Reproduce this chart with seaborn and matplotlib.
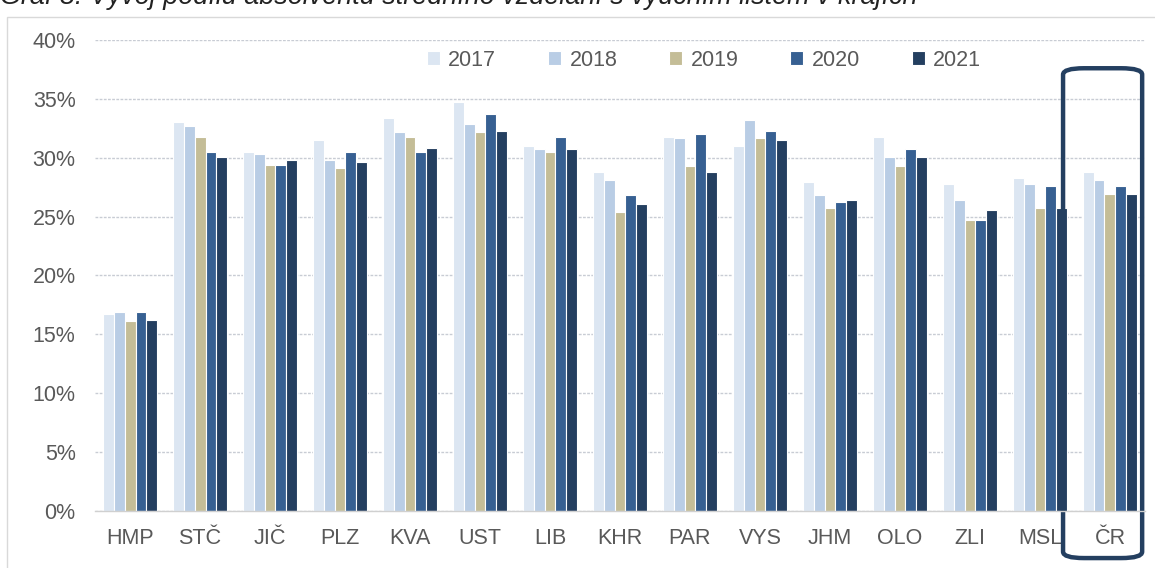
import pandas as pd
import seaborn as sns
import matplotlib.pyplot as plt
from matplotlib.patches import FancyBboxPatch, Rectangle
from matplotlib.ticker import PercentFormatter
import matplotlib.transforms as mtransforms

# ==========================================
# DATA (in %)
# ==========================================
REGIONS = ["HMP", "STČ", "JIČ", "PLZ", "KVA", "UST", "LIB", "KHR",
           "PAR", "VYS", "JHM", "OLO", "ZLI", "MSL", "ČR"]
YEARS = ["2017", "2018", "2019", "2020", "2021"]

Y2017 = [16.7, 33.0, 30.5, 31.5, 33.4, 34.7, 31.0, 28.8, 31.8, 31.0, 27.9, 31.8, 27.8, 28.3, 28.8]
Y2018 = [16.9, 32.7, 30.3, 29.8, 32.2, 32.9, 30.7, 28.1, 31.7, 33.2, 26.8, 30.1, 26.4, 27.8, 28.1]
Y2019 = [16.1, 31.8, 29.4, 29.1, 31.8, 32.2, 30.5, 25.4, 29.3, 31.7, 25.7, 29.3, 24.7, 25.7, 26.9]
Y2020 = [16.9, 30.5, 29.4, 30.5, 30.5, 33.7, 31.8, 26.8, 32.0, 32.3, 26.2, 30.7, 24.7, 27.6, 27.6]
Y2021 = [16.2, 30.1, 29.8, 29.6, 30.8, 32.3, 30.7, 26.1, 28.8, 31.5, 26.4, 30.1, 25.6, 25.7, 26.9]

COLORS = ["#DCE6F2", "#B9CDE5", "#C4BD97", "#376092", "#243F60"]
TITLE = "Graf 8: Vývoj podílu absolventů středního vzdělání s výučním listem v krajích"
TEXT_COLOR = "#595959"

# ==========================================


def build_frame():
    frames = []
    for year, vals in zip(YEARS, [Y2017, Y2018, Y2019, Y2020, Y2021]):
        frames.append(pd.DataFrame({"Region": REGIONS, "Year": year,
                                    "Share": [v / 100 for v in vals]}))
    return pd.concat(frames, ignore_index=True)


def main():
    df = build_frame()

    sns.set_theme(style="white")
    plt.rcParams["font.family"] = ["Liberation Sans", "DejaVu Sans"]

    fig = plt.figure(figsize=(11.55, 5.68), dpi=100)
    ax = fig.add_axes([0.0823, 0.1004, 0.9090, 0.8292])

    sns.barplot(data=df, x="Region", y="Share", hue="Year", order=REGIONS,
                hue_order=YEARS, palette=COLORS, width=0.78, ax=ax,
                edgecolor="white", linewidth=0.8, saturation=1)

    ax.set_ylim(0, 0.40)
    ax.set_xlim(-0.5, len(REGIONS) - 0.5)
    ax.set_yticks([i * 0.05 for i in range(9)])
    ax.yaxis.set_major_formatter(PercentFormatter(1.0, decimals=0))
    ax.set_xlabel("")
    ax.set_ylabel("")
    ax.tick_params(axis="both", length=0, labelsize=15.5, colors=TEXT_COLOR)
    ax.tick_params(axis="y", pad=14)
    ax.tick_params(axis="x", pad=12)

    ax.grid(axis="y", color="#C8CCD4", linestyle=(0, (2, 1)), linewidth=1)
    ax.set_axisbelow(True)
    for side in ["top", "right", "left"]:
        ax.spines[side].set_visible(False)
    ax.spines["bottom"].set_color("#D0D0D0")
    ax.spines["bottom"].set_linewidth(1)

    leg = ax.legend(loc="center", bbox_to_anchor=(0.580, 0.957), ncol=5,
                    frameon=False, fontsize=15.5, handlelength=0.6,
                    handleheight=0.6, handletextpad=0.4, columnspacing=2.4)
    for t in leg.get_texts():
        t.set_color(TEXT_COLOR)

    # highlight box around the national value
    trans = mtransforms.blended_transform_factory(ax.transData, ax.transAxes)
    box = FancyBboxPatch((13.33, -0.10), 1.13, 1.04, transform=trans,
                         boxstyle="round,pad=0,rounding_size=0.3",
                         fill=False, edgecolor="#243F60", linewidth=3.2,
                         clip_on=False, mutation_aspect=0.045)
    ax.add_patch(box)

    # outer chart frame
    fig.patches.append(Rectangle((7 / 1155, -0.01), 1.02, 1 - 17 / 568 + 0.01,
                                 transform=fig.transFigure, fill=False,
                                 edgecolor="#D9D9D9", linewidth=1))

    # title cut off at the top edge, as in the source
    fig.text(0.0, 1 - 3.5 / 568, TITLE, ha="left", va="baseline",
             fontsize=19.4, style="italic", color="#222222")

    fig.savefig("out.png", dpi=100)


if __name__ == "__main__":
    main()
